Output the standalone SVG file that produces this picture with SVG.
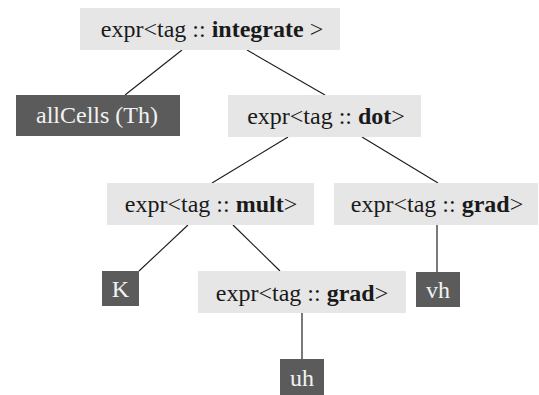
<svg xmlns="http://www.w3.org/2000/svg" width="539" height="395" viewBox="0 0 539 395">
<style>
.light rect{fill:#e6e6e7}
.dark rect{fill:#5b5b5b}
text{font-family:"Liberation Serif","Times New Roman",serif;font-size:24px;text-anchor:middle}
.light text{fill:#1a1a1a}
.dark text{fill:#f2f2f2}
.b{font-weight:bold}
.edge{stroke:#1a1a1a;stroke-width:1.1;fill:none}
.vedge{stroke:#7a7a7a;stroke-width:2;fill:none}
</style>
<rect width="539" height="395" fill="#ffffff"/>
<g id="connectors">
<line class="edge" x1="182" y1="50" x2="125" y2="95"/>
<line class="edge" x1="247" y1="50" x2="325" y2="95"/>
<line class="edge" x1="288" y1="137" x2="212" y2="183"/>
<line class="edge" x1="362" y1="137" x2="438" y2="183"/>
<line class="edge" x1="188" y1="225" x2="139" y2="271"/>
<line class="edge" x1="233" y1="225" x2="280" y2="271"/>
<line class="vedge" x1="437" y1="225" x2="437" y2="272"/>
<line class="vedge" x1="302" y1="313" x2="302" y2="359"/>
</g>
<g id="integrate" class="light">
<rect x="80" y="8" width="260" height="42"/>
<text x="212" y="37">expr&lt;tag :: <tspan class="b">integrate</tspan> &gt;</text>
</g>
<g id="allCells" class="dark">
<rect x="16" y="95" width="164" height="41"/>
<text x="97" y="123">allCells (Th)</text>
</g>
<g id="dot" class="light">
<rect x="228" y="95" width="193" height="42"/>
<text x="326" y="124">expr&lt;tag :: <tspan class="b">dot</tspan>&gt;</text>
</g>
<g id="mult" class="light">
<rect x="107" y="183" width="207" height="42"/>
<text x="211" y="212">expr&lt;tag :: <tspan class="b">mult</tspan>&gt;</text>
</g>
<g id="grad1" class="light">
<rect x="334" y="183" width="204" height="42"/>
<text x="437" y="212">expr&lt;tag :: <tspan class="b">grad</tspan>&gt;</text>
</g>
<g id="K" class="dark">
<rect x="102" y="271" width="37" height="35"/>
<text x="120.5" y="297">K</text>
</g>
<g id="grad2" class="light">
<rect x="198" y="271" width="208" height="42"/>
<text x="302" y="301">expr&lt;tag :: <tspan class="b">grad</tspan>&gt;</text>
</g>
<g id="vh" class="dark">
<rect x="416" y="272" width="44" height="35"/>
<text x="438" y="298">vh</text>
</g>
<g id="uh" class="dark">
<rect x="280" y="359" width="44" height="36"/>
<text x="302" y="386">uh</text>
</g>
</svg>
